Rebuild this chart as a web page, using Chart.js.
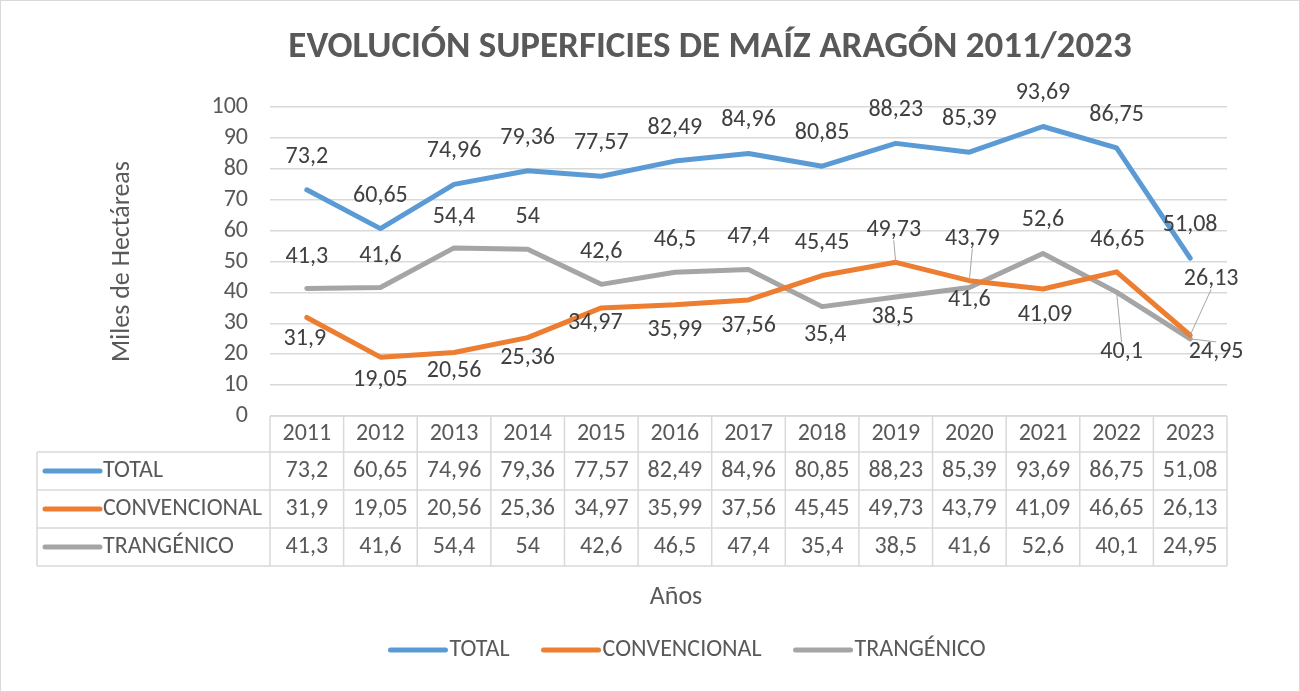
<!DOCTYPE html>
<html>
<head>
<meta charset="utf-8">
<script src="https://cdn.jsdelivr.net/npm/chart.js@4.4.1/dist/chart.umd.min.js"></script>
<style>
  html, body { margin: 0; padding: 0; background: #fff; }
  #wrap { width: 1300px; height: 692px; }
</style>
</head>
<body>
<div id="wrap"><canvas id="maizChart" width="1300" height="692"></canvas></div>
<script>
// Datos (miles de hectáreas)
const years = ['2011', '2012', '2013', '2014', '2015', '2016', '2017', '2018', '2019', '2020', '2021', '2022', '2023'];
const total = [73.2, 60.65, 74.96, 79.36, 77.57, 82.49, 84.96, 80.85, 88.23, 85.39, 93.69, 86.75, 51.08];
const convencional = [31.9, 19.05, 20.56, 25.36, 34.97, 35.99, 37.56, 45.45, 49.73, 43.79, 41.09, 46.65, 26.13];
const trangenico = [41.3, 41.6, 54.4, 54, 42.6, 46.5, 47.4, 35.4, 38.5, 41.6, 52.6, 40.1, 24.95];
const yMin = 0;
const yMax = 100;
const yStep = 10;

const FONT = "Carlito, Lato, 'Open Sans', sans-serif";
const TEXT = '#595959';
const GRID = '#D9D9D9';

// desplazamiento de cada etiqueta respecto a su punto [dx, dy, linea guia]
const labelOffsets = [
    years.map(() => [0, -33, false]),
    [[-2, 22], [0, 23], [0, 19], [0, 20], [-6, 15], [0, 25], [0, 26], [0, -33], [-2, -32, true], [3, -42, true], [2, 26], [1, -32], [21, -56, true]],
    [[0, -31], [0, -31], [0, -31], [0, -32], [0, -32], [0, -32], [0, -33], [3, 28], [-3, 20], [0, 13], [0, -33], [5, 60, true], [26, 13, true]]
];

function fmt(v) {
    return String(v).replace('.', ',');
}

const excelExtras = {
    id: 'excelExtras',
    beforeDraw(chart) {
        const ctx = chart.ctx;
        ctx.save();
        ctx.fillStyle = '#fff';
        ctx.fillRect(0, 0, chart.width, chart.height);
        ctx.strokeStyle = GRID;
        ctx.lineWidth = 1;
        ctx.strokeRect(0.5, 0.5, chart.width - 1, chart.height - 1);
        ctx.restore();
    },
    afterDatasetsDraw(chart) {
        const ctx = chart.ctx;
        ctx.save();
        ctx.font = '24px ' + FONT;
        ctx.textAlign = 'center';
        ctx.textBaseline = 'middle';
        chart.data.datasets.forEach((ds, di) => {
            const meta = chart.getDatasetMeta(di);
            meta.data.forEach((pt, i) => {
                const off = labelOffsets[di][i];
                const lx = pt.x + off[0];
                const ly = pt.y + off[1];
                const txt = fmt(ds.data[i]);
                if (off[2]) {
                    const h = 10;
                    ctx.strokeStyle = '#A6A6A6';
                    ctx.lineWidth = 1;
                    ctx.beginPath();
                    ctx.moveTo(lx, off[1] < 0 ? ly + h : ly - h);
                    ctx.lineTo(pt.x, pt.y);
                    ctx.stroke();
                }
                ctx.fillStyle = '#404040';
                ctx.fillText(txt, lx, ly);
            });
        });
        ctx.restore();
    },
    afterDraw(chart) {
        const ctx = chart.ctx;
        const xs = chart.scales.x;
        const area = chart.chartArea;
        ctx.save();

        // titulo
        ctx.fillStyle = TEXT;
        ctx.font = 'bold 37px ' + FONT;
        ctx.textAlign = 'center';
        ctx.textBaseline = 'middle';
        ctx.fillText('EVOLUCIÓN SUPERFICIES DE MAÍZ ARAGÓN 2011/2023', 710, 48);

        // tabla de datos
        const colW = xs.width / years.length;
        const rowH = [36, 38, 38, 38];
        const rowTop = [area.bottom];
        rowH.forEach(h => rowTop.push(rowTop[rowTop.length - 1] + h));
        const tableLeft = 37;

        ctx.strokeStyle = GRID;
        ctx.lineWidth = 1.5;
        ctx.beginPath();
        rowTop.forEach((y, r) => {
            ctx.moveTo(r === 0 ? xs.left : tableLeft, y);
            ctx.lineTo(xs.right, y);
        });
        for (let c = 0; c <= years.length; c++) {
            const x = xs.left + c * colW;
            ctx.moveTo(x, rowTop[0]);
            ctx.lineTo(x, rowTop[4]);
        }
        ctx.moveTo(tableLeft, rowTop[1]);
        ctx.lineTo(tableLeft, rowTop[4]);
        ctx.stroke();

        ctx.font = '24px ' + FONT;
        ctx.fillStyle = TEXT;
        ctx.textAlign = 'center';
        years.forEach((yr, i) => {
            ctx.fillText(yr, xs.getPixelForValue(i), (rowTop[0] + rowTop[1]) / 2);
        });
        chart.data.datasets.forEach((ds, di) => {
            const cy = (rowTop[di + 1] + rowTop[di + 2]) / 2;
            ctx.textAlign = 'center';
            ctx.fillStyle = TEXT;
            ds.data.forEach((v, i) => {
                ctx.fillText(fmt(v), xs.getPixelForValue(i), cy);
            });
            ctx.strokeStyle = ds.borderColor;
            ctx.lineWidth = 5;
            ctx.lineCap = 'round';
            ctx.beginPath();
            ctx.moveTo(45, cy);
            ctx.lineTo(100, cy);
            ctx.stroke();
            ctx.textAlign = 'left';
            ctx.fillText(ds.label, 103, cy);
        });

        // titulo eje X
        ctx.font = '26px ' + FONT;
        ctx.textAlign = 'center';
        ctx.fillText('Años', 676, 597);

        // leyenda
        ctx.font = '24px ' + FONT;
        const keyLen = 55;
        const gap = 4;
        const spacing = 34;
        const widths = chart.data.datasets.map(ds => keyLen + gap + ctx.measureText(ds.label).width);
        const totalW = widths.reduce((a, b) => a + b, 0) + spacing * (widths.length - 1);
        let x = 688 - totalW / 2;
        const ly = 650;
        chart.data.datasets.forEach((ds, di) => {
            ctx.strokeStyle = ds.borderColor;
            ctx.lineWidth = 5;
            ctx.lineCap = 'round';
            ctx.beginPath();
            ctx.moveTo(x, ly);
            ctx.lineTo(x + keyLen, ly);
            ctx.stroke();
            ctx.textAlign = 'left';
            ctx.fillStyle = TEXT;
            ctx.fillText(ds.label, x + keyLen + gap, ly);
            x += widths[di] + spacing;
        });

        ctx.restore();
    }
};

const ctx = document.getElementById('maizChart').getContext('2d');
new Chart(ctx, {
    type: 'line',
    data: {
        labels: years,
        datasets: [
            { label: 'TOTAL', data: total, borderColor: '#5B9BD5' },
            { label: 'CONVENCIONAL', data: convencional, borderColor: '#ED7D31' },
            { label: 'TRANGÉNICO', data: trangenico, borderColor: '#A5A5A5' }
        ].map(d => Object.assign(d, {
            borderWidth: 5,
            pointRadius: 0,
            tension: 0,
            fill: false,
            borderCapStyle: 'round',
            borderJoinStyle: 'round'
        }))
    },
    options: {
        responsive: false,
        animation: false,
        layout: { padding: { top: 107, right: 73, bottom: 0, left: 0 } },
        plugins: {
            legend: { display: false },
            title: { display: false },
            tooltip: { enabled: false }
        },
        scales: {
            x: {
                offset: true,
                grid: { display: false },
                border: { display: false },
                ticks: { display: false },
                afterFit: scale => { scale.height = 276; }
            },
            y: {
                min: yMin,
                max: yMax,
                ticks: {
                    stepSize: yStep,
                    autoSkip: false,
                    color: TEXT,
                    font: { family: FONT, size: 24 },
                    padding: 22
                },
                grid: { color: GRID, lineWidth: 1.5, drawTicks: false },
                border: { display: false },
                title: {
                    display: true,
                    text: 'Miles de Hectáreas',
                    color: TEXT,
                    font: { family: FONT, size: 26 },
                    padding: { top: 107, bottom: 0 }
                },
                afterFit: scale => { scale.width = 270; }
            }
        }
    },
    plugins: [excelExtras]
});
</script>
</body>
</html>
